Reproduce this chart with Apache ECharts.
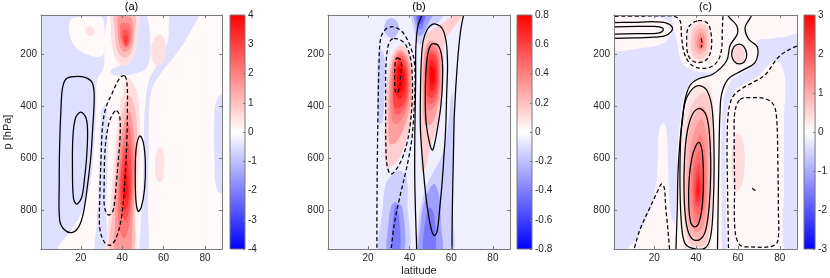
<!DOCTYPE html>
<html><head><meta charset="utf-8">
<script src="https://cdn.jsdelivr.net/npm/echarts@6/dist/echarts.min.js"></script>
<style>html,body{margin:0;padding:0;background:#fff}#c{width:830px;height:278px}</style>
</head><body><div id="c"></div>
<script>
// ---------- axis / tick data ----------
const latTicks = [20, 40, 60, 80];
const pTicks = [200, 400, 600, 800];
const latRange = [0.8, 88.2];
const pRange = [50, 950];
const panelTitles = ['(a)', '(b)', '(c)'];
const colorLimits = [4, 0.8, 3];
const colorSteps = [1, 0.2, 1];

// ---------- panel (a): filled levels [value, [[lat,p],...]] ----------
const aFills = [
  [0.1, [[-2,30],[91,30],[91,970],[-2,970]]],
  [-0.5, [[-2,30],[31,30],[31.2,150],[31,255],[27.8,300],[27.5,400],[26.5,550],[24.5,700],[21,800],[15,880],[10,930],[7,970],[-2,970]]],
  [0.1, [[15,70],[19,58],[26,56],[30.5,62],[31.5,130],[31,200],[28,212],[22,198],[17,170],[14.5,120]]],
  [0.5, [[22.5,100],[24.5,93],[26.5,103],[26.2,124],[24.2,131],[22.6,118]]],
  [-0.5, [[30,420],[31.8,395],[33.2,450],[33,600],[32.3,800],[32.5,970],[27,970],[27.8,850],[28.8,650],[29.3,500]]],
  [-0.5, [[43,30],[50.5,30],[53.5,150],[52,250],[45,278],[36,282],[34.5,262],[40,240],[44,200]]],
  [-0.5, [[64,30],[77,30],[72.5,120],[66,200],[59,270],[54.5,330],[53,420],[52.8,600],[52.5,800],[52.5,970],[48.8,970],[49,850],[50,700],[50.5,520],[51,400],[53,300],[57,240],[62,150]]],
  [-0.5, [[91,355],[86.5,365],[84.5,430],[84.5,600],[86,725],[91,735]]],
  [0.5, [[55,150],[57.5,125],[60,135],[61,180],[60,230],[57,246],[54.5,222],[54,180]]],
  [0.5, [[56.5,580],[58.5,560],[60.2,590],[60,660],[58.5,695],[56.5,680],[56,630]]],
  [0.5, [[35,30],[47.5,30],[47.5,120],[46,200],[42,245],[37.5,228],[35,160],[34.5,90]]],
  [1.0, [[36.8,30],[45.8,30],[46,130],[44.5,192],[41.5,215],[38,195],[36.5,120]]],
  [1.6, [[38.3,55],[44.5,62],[45,140],[43.5,182],[40.5,190],[38.5,160],[37.8,100]]],
  [2.2, [[39.5,82],[43.8,88],[44,150],[42,175],[40,160],[39,118]]],
  [2.7, [[40.5,108],[43,113],[43,160],[41.5,170],[40.3,145]]],
  [3.1, [[41.2,128],[42.5,133],[42.3,158],[41.2,156]]],
  [0.5, [[42.5,290],[46.5,330],[48.3,420],[48.3,550],[47.5,700],[46.5,850],[45.5,970],[32.5,970],[33,880],[34.5,760],[36,600],[38,450],[40.5,340]]],
  [1.0, [[43.5,360],[46.8,440],[47,600],[46,780],[44.8,970],[34.5,970],[35.5,800],[37,620],[39.5,450]]],
  [1.6, [[43.5,420],[45.8,520],[46,680],[45,850],[43.5,970],[37,970],[36.5,850],[37.5,680],[40,500]]],
  [2.2, [[43,470],[45.2,580],[45,720],[43.5,850],[41,910],[38.3,860],[38.5,680],[40.5,540]]],
  [2.8, [[42.8,540],[44.5,640],[44,760],[41.8,840],[39.3,800],[39.2,680],[40.8,580]]],
  [3.3, [[42,600],[43.5,680],[42.8,780],[40.8,800],[40,710],[41,630]]],
  [3.7, [[41.6,650],[42.6,700],[41.8,760],[40.7,730]]]
];
// contour lines [sign, closed, [[lat,p],...]]
const aLines = [
  [1, 1, [[10.5,400],[11.2,330],[13,295],[17,287],[22,290],[25.5,310],[26.5,360],[25.8,480],[24.8,600],[23.5,690],[21.3,810],[19,865],[15.7,887],[12,875],[9.8,838],[9.6,700],[9.8,550]]],
  [1, 1, [[20,424],[22.5,445],[23.3,500],[22.8,600],[21.8,680],[20.5,750],[18.1,777],[16.5,755],[16,650],[16.2,520],[17.5,445]]],
  [-1, 1, [[41.3,285],[42.4,320],[42.5,420],[42.3,520],[41.3,685],[39.7,826],[37.3,903],[34.5,935],[31.5,925],[29.2,870],[29.2,750],[29.8,600],[30.5,480],[32,410],[35,354],[38.9,292]]],
  [-1, 1, [[37.3,418],[38.8,440],[39,520],[38.2,600],[37.3,685],[35.7,800],[33.5,820],[31.5,790],[31.3,700],[31.8,560],[33.5,470],[35.5,430]]],
  [1, 1, [[48.5,515],[50.2,540],[51.2,620],[50.8,720],[49.2,790],[47.7,805],[46.6,760],[46.3,650],[46.8,560]]]
];

// ---------- panel (b) ----------
const bFills = [
  [-0.05, [[-2,30],[91,30],[91,970],[-2,970]]],
  [-0.2, [[31.3,62],[33.8,73],[34.9,100],[33.8,127],[31.3,138],[28.8,127],[27.7,100],[28.8,73]]],
  [-0.15, [[26.5,185],[28,220],[28,350],[27,460],[25.5,470],[24.5,400],[24.5,250],[25.2,195]]],
  [-0.15, [[31.5,665],[35,648],[38.5,675],[39,780],[39.2,970],[25.8,970],[27,800],[28.5,700]]],
  [-0.3, [[33,770],[36.5,790],[37,970],[29.5,970],[30,840],[31,790]]],
  [-0.42, [[33.3,780],[35,830],[35.2,970],[31.8,970],[32,850]]],
  [-0.15, [[60.5,350],[61.5,480],[61,650],[60.5,800],[60.3,970],[43.8,970],[44,880],[45,800],[47.5,720],[51,660],[55,600],[57.5,530],[59,440]]],
  [-0.3, [[52,700],[54.5,760],[55,850],[55.2,970],[45,970],[45.3,850],[47,770],[49.5,720]]],
  [-0.42, [[49.5,790],[51.8,820],[52,970],[46.8,970],[47.2,860]]],
  [0.15, [[36.3,167],[40.3,205],[41.9,295],[41.4,423],[38.7,526],[33.9,615],[29.1,635],[28,577],[28.3,423],[29.6,269],[32.3,192]]],
  [0.3, [[36,185],[39.5,220],[40.8,295],[40.2,400],[37.5,480],[33.5,540],[30.5,545],[29.8,470],[30,330],[31.5,235],[33.5,195]]],
  [0.4, [[35.8,195],[38.9,230],[40,300],[39.3,390],[36.8,445],[33,470],[31.2,440],[31,330],[32,245],[34,205]]],
  [0.5, [[35.5,205],[38.3,235],[39.4,300],[38.7,380],[36,425],[33,430],[31.8,350],[32.5,250]]],
  [0.6, [[35.4,215],[38,245],[39,300],[38.2,370],[35.5,405],[32.8,405],[32.3,340],[33,255]]],
  [0.7, [[35.3,228],[37.5,258],[38.2,305],[37.3,355],[35,375],[33.3,350],[33.2,290],[33.9,248]]],
  [0.78, [[35.2,245],[36.9,268],[37.2,310],[36.3,340],[34.6,345],[34,300],[34.3,262]]],
  [0.15, [[47.5,130],[52,100],[58,70],[63,30],[67,30],[62,90],[57,150],[56.5,250],[55.5,380],[53,480],[50,560],[47.5,640],[45.8,655],[45.5,560],[45.5,400],[45.6,250],[46,170]]],
  [0.3, [[49.5,150],[53,160],[55.3,230],[55,340],[53,420],[50.5,470],[47.5,470],[46.5,400],[46.5,250],[47.5,180]]],
  [0.4, [[50,165],[53.2,180],[54.6,250],[54.2,340],[51.8,405],[48.5,415],[47.1,330],[47.3,230],[48.2,185]]],
  [0.5, [[50.1,185],[53,200],[54,260],[53.5,345],[51,390],[48.5,385],[47.7,310],[48.2,215]]],
  [0.6, [[50.2,200],[52.7,215],[53.5,270],[52.8,340],[50.5,370],[48.5,355],[48.2,290],[48.7,225]]],
  [0.7, [[50.3,220],[52.3,240],[52.8,285],[52,330],[50.2,345],[49.2,305],[49.3,250]]],
  [0.78, [[50.4,245],[51.8,262],[52,300],[50.8,322],[49.8,292],[49.9,258]]],
  [-0.15, [[41.5,30],[57,30],[54,75],[50,95],[47,130],[45.5,165],[43.5,150],[42,110]]],
  [-0.3, [[42.5,30],[52,30],[49,80],[46.5,120],[44.5,130],[43,100]]],
  [-0.42, [[43.5,30],[48.5,30],[47,75],[45.5,105],[44,95]]],
  [-0.52, [[44,50],[46.5,52],[45.5,85],[44.3,80]]]
];
const bLines = [
  [-1, 0, [[24.3,970],[24.3,800],[24.5,600],[24.8,430],[25.3,240],[26.1,140],[28.5,105],[31.7,95],[35,105],[37.3,123],[40.5,174],[42.4,240],[42.4,367],[41.3,508],[40,580],[38,658],[35,760],[32.5,860],[30.9,970]]],
  [-1, 1, [[32.5,140],[36,148],[38.5,170],[40.5,220],[41.3,290],[41.2,380],[40.3,470],[38.8,540],[36.5,600],[33.5,645],[30.9,662],[29.2,630],[28.6,550],[28.5,400],[28.6,250],[29.5,175],[30.8,148]]],
  [-1, 1, [[34,215],[35.8,225],[36,260],[35.5,300],[34.5,345],[33.3,350],[32.8,300],[33,240],[33.5,218]]],
  [1, 0, [[43.5,970],[42.5,700],[42.5,500],[42.9,300],[43,170],[44,90],[45.5,58],[46.5,30]]],
  [1, 0, [[66.5,30],[64.5,110],[62.9,240],[61.5,430],[61,600],[60.5,800],[60.3,970]]],
  [1, 1, [[52.5,85],[55.5,100],[57.5,150],[58.2,240],[57.8,350],[57.3,490],[56.5,590],[55.7,685],[54.5,790],[53.3,877],[52,898],[50.8,885],[49.5,840],[48,760],[46.5,640],[45.2,490],[45.2,350],[45.6,230],[46.5,150],[48.5,105],[50.5,88]]],
  [1, 1, [[51.5,160],[54,170],[55.6,220],[55.8,300],[55,400],[53.5,480],[52,545],[50.9,570],[49.5,540],[48,470],[47.5,380],[47.8,270],[48.7,200],[50,168]]]
];

// ---------- panel (c) ----------
const cFills = [
  [-0.35, [[-2,30],[91,30],[91,970],[-2,970]]],
  [0.1, [[30.8,30],[91,30],[91,970],[29.5,970],[30,850],[30.8,700],[31.3,550],[32.5,450],[34,370],[36.5,318],[40,296],[46,283],[49,268],[45,272],[38,262],[33.5,235],[31.5,180]]],
  [0.1, [[24,465],[25.8,490],[26.5,600],[27,720],[28,820],[31,880],[33,970],[7,970],[12,900],[17,820],[20.5,720],[21.8,600],[22.3,500]]],
  [0.1, [[-2,58],[14,57],[24,62],[28.5,90],[28,125],[24,160],[15,176],[-2,180]]],
  [-0.35, [[69.5,150],[76,140],[82,135],[91,128],[91,970],[82.5,970],[82,700],[82,450],[82.5,300],[80,235],[76,232],[70,282],[64,312],[58.5,342],[55.8,385],[54.5,450],[54,600],[54.3,800],[54.5,970],[52.5,970],[52.3,800],[52,600],[52.5,430],[53.5,360],[57,300],[63,268],[68,242],[69.8,200]]],
  [0.5, [[60.5,165],[62.8,185],[62.8,220],[60.5,238],[58.3,222],[58,190]]],
  [0.4, [[60,505],[62.5,540],[63.2,620],[62,700],[59.5,730],[57.5,690],[57,600],[58,530]]],
  [0.3, [[41,70],[45.5,80],[47.5,130],[47,190],[44.5,225],[40,235],[36.8,210],[36,150],[37,95]]],
  [0.6, [[41.5,85],[45,95],[46.3,140],[45.8,190],[43.5,215],[40.5,218],[38,195],[37.5,145],[38.5,105]]],
  [0.9, [[42,100],[44.5,115],[45.2,150],[44.5,185],[42.5,200],[40.3,195],[39,165],[39.5,120]]],
  [1.2, [[42.3,115],[44,130],[44.3,160],[43.3,185],[41.3,185],[40.2,160],[40.8,130]]],
  [1.5, [[42.5,130],[43.6,145],[43.5,170],[42.3,178],[41.2,160],[41.6,140]]],
  [1.8, [[42.6,143],[43.2,155],[42.8,168],[42,160]]],
  [0.3, [[44.5,305],[47.5,340],[48.5,450],[48.5,650],[48,800],[47,900],[45,970],[35,970],[33.3,880],[32.8,700],[33.2,500],[35.5,400],[39.5,330]]],
  [0.6, [[44,350],[47,400],[47.8,550],[47.5,750],[46.5,870],[44,935],[38,935],[35,880],[34.2,720],[34.5,540],[36.5,430],[40,370]]],
  [0.9, [[43.2,400],[46.2,460],[46.8,600],[46.3,760],[45,870],[42,910],[38,900],[35.8,830],[35.3,680],[36,530],[38.5,450]]],
  [1.2, [[42.5,450],[45.3,520],[45.8,650],[45,790],[43,870],[40,885],[37.5,850],[36.5,730],[37,580],[39.5,490]]],
  [1.5, [[42,510],[44.5,580],[44.8,700],[44,800],[41.5,850],[39,840],[37.5,760],[37.8,630],[39.8,550]]],
  [1.8, [[41.5,570],[43.8,640],[43.8,740],[42.5,810],[40.5,820],[38.5,770],[38.6,660],[40,600]]],
  [2.1, [[41.2,620],[43,680],[42.8,760],[41,790],[39.3,760],[39.5,680]]],
  [2.4, [[41,660],[42.3,710],[41.8,760],[40.3,770],[39.8,720]]],
  [2.7, [[40.8,690],[41.6,720],[41,750],[40.3,730]]]
];
const cLines = [
  [1, 0, [[54.6,30],[55.5,55],[59.4,91],[59.7,123],[56.2,168],[54.6,226],[48.2,277],[41,296],[37,322],[34.6,380],[33.5,456],[32.5,520],[31.4,650],[31,800],[30.3,970]]],
  [1, 0, [[67.4,30],[66,60],[63.4,97],[65,142],[69.3,174],[68.2,232],[61.8,264],[55.4,296],[52.2,354],[51.4,431],[51.1,508],[50.8,650],[50.5,800],[50.2,970]]],
  [1, 1, [[60.6,162],[62.8,172],[64.2,200],[63.2,228],[60.6,238],[58,226],[57,200],[58.2,172]]],
  [1, 1, [[41.5,540],[43,580],[43.5,680],[43,780],[41.5,845],[39.5,865],[37.5,850],[36.5,780],[36.7,680],[38,600],[39.8,555]]],
  [1, 1, [[42,410],[45,440],[46.5,520],[47,650],[46.3,780],[44.5,880],[41.5,915],[38,910],[35.5,860],[34.3,750],[34.5,600],[36,490],[38.8,425]]],
  [1, 1, [[41.8,322],[45.5,345],[47.8,420],[48.6,600],[48.2,780],[47,900],[44.5,945],[38.5,948],[34.5,925],[32.8,830],[32.3,650],[33,480],[35,380],[38.5,332]]],
  [1, 0, [[-2,80],[10,78],[20,76],[25.5,80],[28.5,95],[28,115],[25,130],[18,136],[10,138],[-2,140]]],
  [1, 0, [[-2,96],[12,94],[20,94],[24,100],[24.2,110],[22,120],[12,122],[-2,124]]],
  [-1, 0, [[-2,55],[15,54],[25,53],[30,56],[32.5,75],[33,130],[34.5,200],[37.5,240],[42,255],[47,250],[50.5,225],[52.2,180],[52.5,110],[52.8,60],[53,30]]],
  [-1, 1, [[41,72],[45.5,82],[47.3,130],[47,190],[44.5,225],[40,232],[36.5,210],[35.5,150],[36.5,95]]],
  [-1, 0, [[42.4,140],[42.8,158],[42.4,175]]],
  [-1, 0, [[91,160],[84,185],[79,215],[73,280],[67,310],[61.5,335],[57.5,365],[55.5,420],[54.8,550],[55,700],[55.3,850],[55.5,970]]],
  [-1, 1, [[61,375],[66,368],[73,372],[77,395],[78.5,450],[79,600],[79.3,800],[79,920],[76,940],[66,942],[61,935],[58.6,880],[58.4,700],[58.2,500],[58.6,420]]],
  [-1, 0, [[66.8,716],[68.3,726]]],
  [-1, 0, [[9.8,970],[13,880],[18,790],[21.5,730],[23.5,700],[24.8,715],[25.5,790],[26.5,870],[27.5,970]]]
];

// ---------- layout ----------
const plotBoxes = [
  {left: 41, top: 15, width: 181, height: 234},
  {left: 328, top: 15, width: 182, height: 234},
  {left: 614, top: 15, width: 183, height: 234}
];
const barBoxes = [
  {left: 230, top: 15, width: 15, height: 234},
  {left: 517, top: 15, width: 15, height: 234},
  {left: 804, top: 15, width: 15, height: 234}
];
const FONT = '"Liberation Sans", Arial, Helvetica, sans-serif';
const AX = '#7a7a7a';
const TXT = '#262626';

function cmap(v, cmax) {
  const t = Math.max(-1, Math.min(1, v / cmax));
  let r, g, b;
  if (t >= 0) { r = 255; g = b = Math.round(255 * (1 - t)); }
  else { b = 255; r = g = Math.round(255 * (1 + t)); }
  return 'rgb(' + r + ',' + g + ',' + b + ')';
}

const panels = [
  {fills: aFills, lines: aLines},
  {fills: bFills, lines: bLines},
  {fills: cFills, lines: cLines}
];

const grid = [], xAxis = [], yAxis = [], series = [];
plotBoxes.forEach(b => grid.push(Object.assign({containLabel: false}, b)));
barBoxes.forEach(b => grid.push(Object.assign({containLabel: false}, b)));

function plotX(gi, pos, labels) {
  return {gridIndex: gi, type: 'value', position: pos, min: latRange[0], max: latRange[1], z: 10,
    axisLine: {show: true, onZero: false, lineStyle: {color: AX, width: 1}},
    axisTick: {show: true, inside: true, length: 3, customValues: latTicks, lineStyle: {color: AX}},
    axisLabel: {show: labels, customValues: latTicks, color: TXT, fontSize: 10, fontFamily: FONT, margin: 4},
    splitLine: {show: false}};
}
function plotY(gi, pos, labels) {
  return {gridIndex: gi, type: 'value', position: pos, inverse: true, min: pRange[0], max: pRange[1], z: 10,
    axisLine: {show: true, onZero: false, lineStyle: {color: AX, width: 1}},
    axisTick: {show: true, inside: true, length: 3, customValues: pTicks, lineStyle: {color: AX}},
    axisLabel: {show: labels, customValues: pTicks, color: TXT, fontSize: 10, fontFamily: FONT, margin: 4},
    splitLine: {show: false}};
}

panels.forEach((pn, i) => {
  xAxis.push(plotX(i, 'bottom', true));
  xAxis.push(plotX(i, 'top', false));
  yAxis.push(plotY(i, 'left', true));
  yAxis.push(plotY(i, 'right', false));
  const cmax = colorLimits[i];
  series.push({
    type: 'custom', xAxisIndex: 2 * i, yAxisIndex: 2 * i, clip: true, silent: true, z: 2,
    data: pn.fills.map(f => f[1][0]),
    renderItem: function (params, api) {
      const f = pn.fills[params.dataIndex];
      return {type: 'polygon', z2: params.dataIndex,
        shape: {points: f[1].map(q => api.coord(q)), smooth: 0.35},
        style: {fill: cmap(f[0], cmax), stroke: null}};
    }
  });
  series.push({
    type: 'custom', xAxisIndex: 2 * i, yAxisIndex: 2 * i, clip: true, silent: true, z: 3,
    data: pn.lines.map(l => l[2][0]),
    renderItem: function (params, api) {
      const l = pn.lines[params.dataIndex];
      return {type: l[1] ? 'polygon' : 'polyline',
        shape: {points: l[2].map(q => api.coord(q)), smooth: 0.35},
        style: {fill: 'none', stroke: '#000', lineWidth: 1.25, lineDash: l[0] < 0 ? [4, 2.6] : null}};
    }
  });
});

// colorbars
barBoxes.forEach((b, i) => {
  const gi = 3 + i;
  const cmax = colorLimits[i];
  xAxis.push({gridIndex: gi, type: 'value', min: 0, max: 1, show: false});
  yAxis.push({gridIndex: gi, type: 'value', position: 'right', min: -cmax, max: cmax, interval: colorSteps[i], z: 10,
    axisLine: {show: false, onZero: false},
    axisTick: {show: true, inside: true, length: 2, lineStyle: {color: AX}},
    axisLabel: {color: TXT, fontSize: 10, fontFamily: FONT, margin: 3},
    splitLine: {show: false}});
  series.push({
    type: 'custom', xAxisIndex: 6 + i, yAxisIndex: 6 + i, silent: true, z: 2,
    data: [[0, -cmax]],
    renderItem: function (params, api) {
      const p0 = api.coord([0, cmax]);
      const p1 = api.coord([1, -cmax]);
      return {type: 'rect',
        shape: {x: p0[0], y: p0[1], width: p1[0] - p0[0], height: p1[1] - p0[1]},
        style: {fill: new echarts.graphic.LinearGradient(0, 0, 0, 1, [
          {offset: 0, color: cmap(cmax, cmax)},
          {offset: 0.5, color: cmap(0, cmax)},
          {offset: 1, color: cmap(-cmax, cmax)}]), stroke: AX, lineWidth: 1}};
    }
  });
});

const graphic = [];
plotBoxes.forEach((b, i) => {
  graphic.push({type: 'text', x: b.left + b.width / 2, y: 7,
    style: {text: panelTitles[i], font: '11px ' + FONT, fill: '#000', align: 'center', verticalAlign: 'middle'}});
});
graphic.push({type: 'text', x: 8, y: 132, rotation: Math.PI / 2,
  style: {text: 'p [hPa]', font: '11px ' + FONT, fill: TXT, align: 'center', verticalAlign: 'middle'}});
graphic.push({type: 'text', x: plotBoxes[1].left + plotBoxes[1].width / 2, y: 271,
  style: {text: 'latitude', font: '11px ' + FONT, fill: TXT, align: 'center', verticalAlign: 'middle'}});

const chart = echarts.init(document.getElementById('c'), null, {renderer: 'canvas'});
chart.setOption({animation: false, backgroundColor: '#fff', grid, xAxis, yAxis, series, graphic});
</script></body></html>
